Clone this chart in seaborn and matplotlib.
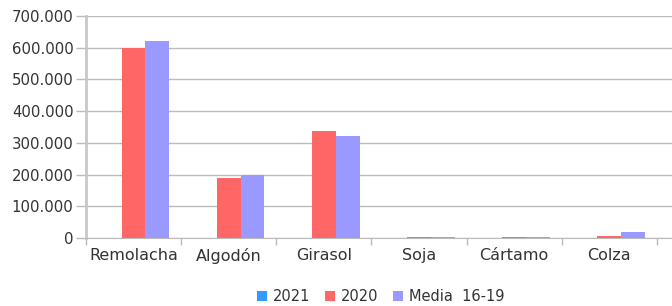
import seaborn as sns
import matplotlib.pyplot as plt
import pandas as pd
from matplotlib.ticker import FuncFormatter

crops = ['Remolacha', 'Algodón', 'Girasol', 'Soja', 'Cártamo', 'Colza']
series = ['2021', '2020', 'Media  16-19']
v2021 = [0, 0, 0, 0, 0, 0]
v2020 = [598000, 189000, 337000, 2800, 2500, 6000]
media = [621000, 199000, 322000, 2500, 2200, 18000]

df = pd.DataFrame({
    'Cultivo': crops * 3,
    'Serie': [s for s in series for _ in crops],
    'Valor': v2021 + v2020 + media,
})

palette = ['#3399FF', '#FF6666', '#9999FF']

fig = plt.figure(figsize=(6.72, 3.06), dpi=100)
ax = fig.add_axes([0.128, 0.222, 0.872, 0.726])

sns.barplot(
    data=df, x='Cultivo', y='Valor', hue='Serie',
    palette=palette, width=0.75, saturation=1,
    ax=ax, legend=True,
)

ax.set_ylim(0, 700000)
ax.set_xlim(-0.5, 5.66)
ax.set_yticks(range(0, 700001, 100000))
ax.yaxis.set_major_formatter(FuncFormatter(lambda v, p: f'{int(v):,}'.replace(',', '.')))
ax.set_xticks([i - 0.5 for i in range(7)], minor=True)
ax.tick_params(axis='x', which='major', length=0, pad=7, labelsize=11.5, labelcolor='#333333')
ax.tick_params(axis='x', which='minor', length=5, color='#bbbbbb', width=1)
ax.tick_params(axis='y', length=7, color='#bbbbbb', width=1, labelsize=10.7, labelcolor='#333333', pad=2)
ax.grid(axis='y', color='#bbbbbb', linewidth=1)
ax.set_axisbelow(True)
for s in ['top', 'right']:
    ax.spines[s].set_visible(False)
ax.spines['left'].set_color('#c8c8c8')
ax.spines['left'].set_linewidth(2)
ax.spines['bottom'].set_color('#bbbbbb')
ax.set_xlabel('')
ax.set_ylabel('')

leg = ax.legend(
    loc='upper center', bbox_to_anchor=(0.503, -0.17), ncol=3, frameon=False,
    handlelength=0.7, handleheight=0.7, handletextpad=0.4, columnspacing=1.0,
    fontsize=10.5,
)
for t in leg.get_texts():
    t.set_color('#333333')

fig.savefig('out.png', dpi=100)
